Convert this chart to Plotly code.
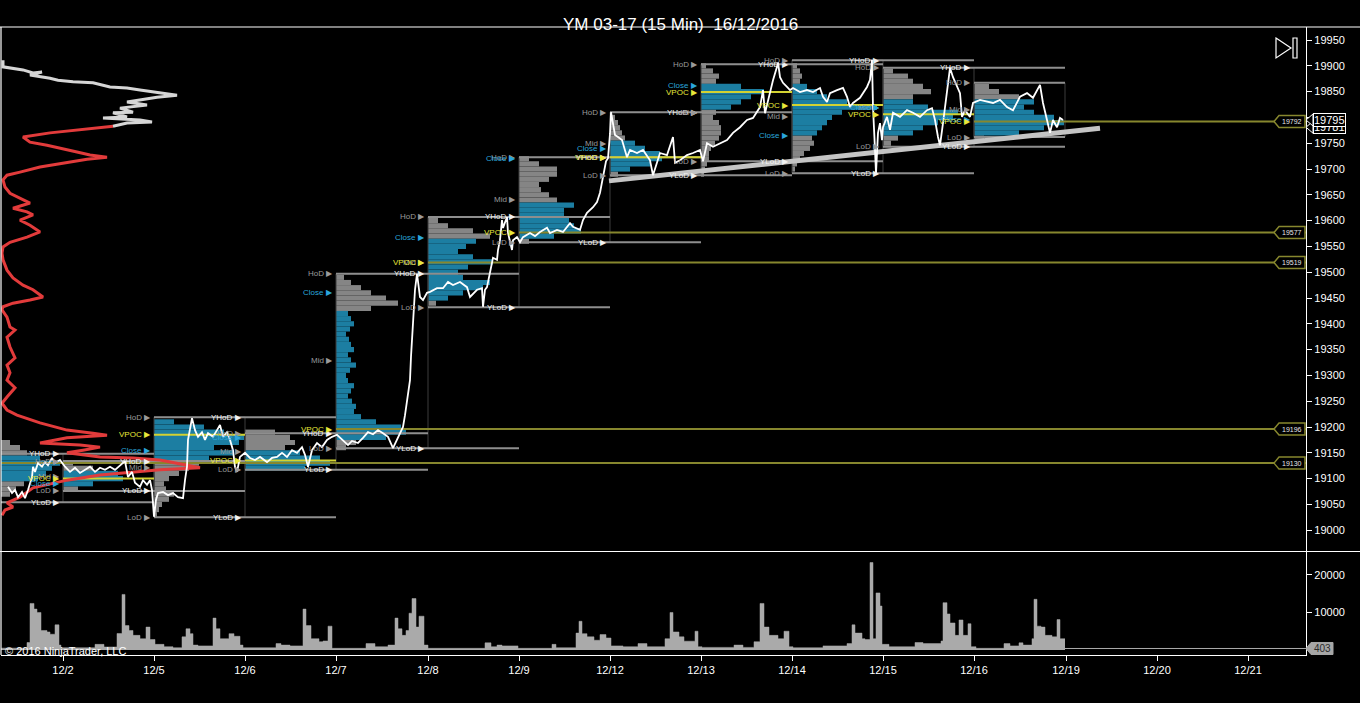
import plotly.graph_objects as go

# ---------------------------------------------------------------- data
TITLE = "YM 03-17 (15 Min)  16/12/2016"
COPYRIGHT = "© 2016 NinjaTrader, LLC"
DATE_LABELS = ["12/2", "12/5", "12/6", "12/7", "12/8", "12/9", "12/12", "12/13",
               "12/14", "12/15", "12/16", "12/19", "12/20", "12/21"]
TICK_BARS = [0, 91, 182, 273, 365, 456, 547, 638, 729, 820, 911, 1003, 1094, 1185]
SESSION_START = [-91, 0, 91, 182, 273, 365, 456, 547, 638, 729, 820, 911]
LAST_BAR = 1002
X_RANGE = [-62, 1243]
PRICE_RANGE = [18959.7, 19975.2]
VOL_RANGE = [-1330, 26100]
PRICE_TICKS = [19000, 19050, 19100, 19150, 19200, 19250, 19300, 19350, 19400, 19450,
               19500, 19550, 19600, 19650, 19700, 19750, 19800, 19850, 19900, 19950]
VOLUME_TICKS = [10000, 20000]
LAST_PRICE = 19795
SECOND_TAG = 19781
LAST_VOLUME = 403

# 15-min closes (bar index, price)
PRICE_BAR = [-55, -51, -48, -45, -41, -38, -35, -31, -30, -28, -25, -21, -18, -15, -11, -8, -3,
             2, 7, 12, 17, 22, 27, 32, 37, 42, 47, 52, 57, 62, 65, 69, 72, 77, 80, 84, 87, 89,
             91, 93, 95, 100, 105, 110, 115, 120, 122, 124, 125, 129, 132, 135, 139, 142, 145,
             150, 154, 157, 160, 164, 167, 170, 172, 174, 177, 182, 187, 192, 197, 204, 209,
             214, 219, 224, 229, 234, 239, 242, 245, 249, 254, 259, 264, 269, 274, 280, 285,
             289, 295, 300, 305, 310, 315, 320, 325, 330, 334, 337, 340, 342, 344, 347, 348,
             350, 352, 354, 357, 360, 364, 367, 374, 380, 385, 390, 397, 404, 407, 414, 419,
             420, 422, 424, 427, 430, 434, 435, 437, 439, 440, 444, 445, 449, 450, 454, 457,
             460, 467, 472, 477, 484, 487, 494, 500, 507, 510, 517, 520, 524, 530, 534, 537,
             540, 543, 545, 547, 548, 550, 552, 555, 559, 564, 567, 574, 580, 587, 590, 597,
             604, 610, 612, 617, 624, 630, 637, 640, 644, 650, 657, 664, 670, 677, 684, 690,
             697, 700, 702, 705, 710, 714, 715, 717, 720, 724, 727, 730, 737, 744, 750, 757,
             760, 764, 767, 774, 780, 784, 787, 790, 797, 804, 807, 809, 810, 812, 813, 815,
             817, 819, 820, 824, 827, 830, 837, 844, 850, 857, 864, 869, 872, 875, 877, 880,
             884, 887, 890, 894, 897, 899, 902, 907, 910, 917, 924, 930, 937, 944, 950, 957,
             964, 970, 977, 980, 984, 987, 990, 994, 997, 1000]
PRICE = [19084, 19072, 19078, 19064, 19074, 19062, 19078, 19103, 19123, 19113, 19130, 19123,
         19132, 19126, 19140, 19130, 19136,
         19123, 19113, 19121, 19111, 19117, 19123, 19113, 19121, 19117, 19123, 19117, 19126,
         19134, 19103, 19113, 19092, 19084, 19097, 19088, 19097, 19078,
         19026, 19059, 19072, 19074, 19068, 19072, 19064, 19062, 19097, 19123, 19175, 19217,
         19194, 19181, 19190, 19175, 19188,
         19181, 19194, 19204, 19181, 19190, 19175, 19155, 19123, 19113, 19142, 19150, 19140,
         19136, 19142, 19132, 19140,
         19142, 19150, 19142, 19155, 19150, 19161, 19146, 19123, 19155, 19169, 19161, 19175,
         19181, 19185, 19175, 19165,
         19173, 19169, 19179, 19190, 19186, 19194, 19188, 19181, 19159, 19175, 19185, 19200,
         19223, 19252, 19291, 19336,
         19402, 19466, 19497, 19452, 19446, 19460, 19462, 19469, 19469, 19481, 19475, 19481,
         19471, 19452, 19466, 19469,
         19433, 19466, 19471, 19498, 19528, 19524, 19543, 19562, 19601, 19586, 19607, 19576,
         19543, 19562, 19568, 19558,
         19568, 19576, 19570, 19578, 19586, 19576, 19582, 19578, 19595, 19588, 19582, 19601,
         19615, 19626, 19636, 19654,
         19688, 19715, 19721, 19768, 19810, 19789, 19766, 19762, 19756, 19723, 19737, 19731,
         19737, 19717, 19688, 19731,
         19727, 19762, 19712, 19717, 19727, 19731, 19737, 19715, 19750, 19743, 19750, 19756,
         19770, 19781, 19795, 19799,
         19820, 19853, 19808, 19834, 19872, 19898, 19907, 19878, 19867, 19859, 19853, 19857,
         19849, 19853, 19849, 19857,
         19840, 19830, 19847, 19853, 19857, 19840, 19820, 19828, 19838, 19859, 19873, 19911,
         19820, 19737, 19692, 19770,
         19789, 19756, 19781, 19801, 19776, 19809, 19801, 19814, 19809, 19801, 19814, 19818,
         19795, 19762, 19746, 19789,
         19853, 19896, 19878, 19859, 19847, 19801, 19814, 19801, 19828, 19834, 19830, 19828,
         19834, 19820, 19814, 19840,
         19847, 19838, 19863, 19828, 19795, 19770, 19795, 19781, 19799, 19795]

# volume (step start bar, contracts)
VOL_BAR = [-62, -36, -33, -29, -26, -22, -16, -13, -8, -4, -2, 32, 41, 54, 59, 62, 66, 70, 77,
           83, 87, 92, 101, 110, 119, 123, 127, 130, 135, 150, 153, 157, 166, 171, 177, 180,
           213, 218, 227, 240, 243, 248, 256, 260, 265, 269, 303, 312, 325, 332, 335, 339,
           343, 346, 349, 353, 356, 361, 365, 422, 428, 434, 439, 455, 489, 493, 513, 516,
           519, 524, 531, 537, 543, 548, 560, 575, 584, 602, 607, 610, 616, 621, 632, 635,
           639, 671, 680, 691, 697, 701, 706, 715, 721, 726, 730, 760, 784, 789, 792, 799,
           802, 807, 810, 813, 817, 819, 826, 852, 860, 878, 880, 884, 887, 892, 896, 900,
           905, 908, 913, 941, 947, 956, 960, 969, 971, 974, 978, 982, 989, 994, 997, 1002]
VOL = [500, 2000, 12400, 10900, 10000, 5200, 4800, 4200, 6700, 1300, 600, 1500, 800, 4400,
       14800, 6500, 5200, 3900, 3000, 6100, 2800, 1500, 870, 600, 3500, 5650, 4350, 1300,
       1100, 8500, 5650, 3000, 4350, 3650, 1300, 600, 1700, 1300, 1100, 10900, 6500, 3000,
       2200, 2400, 6350, 450, 1700, 870, 1300, 8500, 5650, 3900, 5200, 9800, 13700, 6100,
       9000, 1300, 450, 1900, 870, 1300, 1100, 450, 1500, 600, 4500, 7650, 4350, 3500, 2600,
       4100, 3200, 1100, 870, 1700, 870, 3000, 10000, 4800, 3500, 2350, 5000, 870, 700, 1300,
       700, 2200, 12400, 6100, 3900, 3000, 5000, 870, 600, 1100, 1700, 6700, 4500, 3000,
       2800, 23300, 3000, 15200, 11700, 1500, 870, 2000, 1700, 2400, 12600, 9600, 7200, 3900,
       8000, 3900, 7000, 870, 450, 1700, 1100, 1900, 1300, 3000, 13500, 6350, 6100, 3900,
       3500, 8100, 3000, 3000]

# daily levels: 12/1 ... 12/16
DAY_HIGH = [19148, 19134, 19219, 19188, 19497, 19607, 19723, 19810, 19903, 19911, 19896, 19867]
DAY_LOW = [19054, 19076, 19025, 19117, 19159, 19432, 19558, 19688, 19715, 19692, 19743, 19762]
DAY_CLOSE = [19100, 19091, 19155, 19180, 19461, 19568, 19721, 19740, 19862, 19765, 19820, 19795]
DAY_VPOC = [19130, 19100, 19185, 19135, 19196, 19519, 19577, 19723, 19849, 19824, 19806, 19792]
NAKED_VPOC = [True, False, False, False, True, True, True, False, False, False, False, True]
VA_LOW = [19100, 19090, 19140, 19120, 19180, 19450, 19570, 19700, 19820, 19770, 19770, 19770]
VA_HIGH = [19140, 19110, 19220, 19150, 19420, 19560, 19630, 19750, 19860, 19860, 19830, 19830]

# daily volume profiles (price level, relative volume in bars)
PROF_1201_LVL = [19170, 19160, 19150, 19140, 19130, 19120, 19110, 19100, 19090, 19080, 19070]
PROF_1201_VOL = [38, 48, 55, 68, 88, 80, 74, 66, 52, 44, 38]
PROF_1202_LVL = [19130, 19120, 19110, 19100, 19090, 19080]
PROF_1202_VOL = [10, 30, 55, 60, 30, 15]
PROF_1205_LVL = [19210, 19200, 19190, 19180, 19170, 19160, 19150, 19140, 19130, 19120,
                 19110, 19100, 19090, 19080, 19070, 19060, 19050, 19040, 19030]
PROF_1205_VOL = [20, 50, 70, 90, 85, 60, 80, 55, 45, 35, 25, 15, 10, 12, 20, 15, 8, 5, 3]
PROF_1206_LVL = [19190, 19180, 19170, 19160, 19150, 19140, 19130, 19120]
PROF_1206_VOL = [30, 45, 50, 40, 55, 75, 85, 60]
PROF_1207_LVL = [19490, 19480, 19470, 19460, 19450, 19440, 19430, 19420, 19410, 19400,
                 19390, 19380, 19370, 19360, 19350, 19340, 19330, 19320, 19310, 19300,
                 19290, 19280, 19270, 19260, 19250, 19240, 19230, 19220, 19210, 19200,
                 19190, 19180, 19170, 19160]
PROF_1207_VOL = [8, 15, 25, 35, 50, 62, 35, 12, 15, 18, 14, 10, 13, 15, 18, 12, 15, 20, 14,
                 10, 12, 18, 15, 12, 16, 20, 18, 25, 40, 65, 70, 50, 20, 10]
PROF_1208_LVL = [19600, 19590, 19580, 19570, 19560, 19550, 19540, 19530, 19520, 19510,
                 19500, 19490, 19480, 19470, 19460, 19450, 19440]
PROF_1208_VOL = [10, 20, 45, 62, 48, 38, 30, 45, 65, 40, 30, 35, 62, 55, 35, 20, 8]
PROF_1209_LVL = [19720, 19710, 19700, 19690, 19680, 19670, 19660, 19650, 19640, 19630,
                 19620, 19610, 19600, 19590, 19580, 19570, 19560]
PROF_1209_VOL = [10, 20, 38, 38, 30, 20, 22, 30, 38, 55, 45, 45, 50, 55, 62, 35, 10]
PROF_1212_LVL = [19800, 19790, 19780, 19770, 19760, 19750, 19740, 19730, 19720, 19710,
                 19700, 19690]
PROF_1212_VOL = [5, 8, 10, 12, 15, 25, 35, 50, 52, 40, 20, 8]
PROF_1213_LVL = [19900, 19890, 19880, 19870, 19860, 19850, 19840, 19830, 19820, 19810,
                 19800, 19790, 19780, 19770, 19760, 19750, 19740, 19730, 19720, 19710,
                 19700, 19690]
PROF_1213_VOL = [5, 12, 18, 15, 40, 63, 50, 40, 30, 15, 12, 18, 20, 20, 18, 14, 10, 8, 8, 6,
                 4, 3]
PROF_1214_LVL = [19900, 19890, 19880, 19870, 19860, 19850, 19840, 19830, 19820, 19810,
                 19800, 19790, 19780, 19770, 19760, 19750, 19740, 19730, 19720, 19710, 19700]
PROF_1214_VOL = [5, 8, 10, 8, 15, 25, 35, 55, 85, 50, 40, 35, 30, 25, 20, 22, 18, 12, 8, 5, 3]
PROF_1215_LVL = [19890, 19880, 19870, 19860, 19850, 19840, 19830, 19820, 19810, 19800,
                 19790, 19780, 19770, 19760, 19750]
PROF_1215_VOL = [10, 25, 30, 40, 48, 30, 30, 45, 75, 70, 55, 40, 30, 15, 8]
PROF_1216_LVL = [19860, 19850, 19840, 19830, 19820, 19810, 19800, 19790, 19780, 19770, 19760]
PROF_1216_VOL = [15, 25, 45, 60, 50, 60, 80, 90, 70, 45, 10]

# composite profile along the left edge (price, length in bars)
COMP_UPPER_PRICE = [19911, 19898, 19892, 19886, 19888, 19882, 19876, 19872, 19869, 19867,
                    19859, 19857, 19853, 19849, 19847, 19843, 19839, 19834, 19830, 19824,
                    19818, 19810, 19809, 19801, 19799, 19795, 19791, 19789, 19783]
COMP_UPPER_LEN = [2, 2, 22, 32, 41, 29, 49, 57, 72, 92, 109, 126, 139, 156, 162, 176, 156,
                  139, 126, 146, 119, 132, 112, 126, 102, 139, 151, 126, 112]
COMP_LOWER_PRICE = [19783, 19777, 19770, 19762, 19752, 19746, 19741, 19733, 19727, 19723,
                    19719, 19712, 19704, 19694, 19688, 19679, 19665, 19653, 19644, 19634,
                    19624, 19617, 19611, 19601, 19591, 19578, 19568, 19558, 19549, 19537,
                    19524, 19504, 19489, 19475, 19466, 19452, 19446, 19440, 19433, 19427,
                    19413, 19394, 19388, 19374, 19355, 19334, 19320, 19305, 19291, 19276,
                    19258, 19246, 19233, 19223, 19208, 19194, 19188, 19184, 19179, 19169,
                    19165, 19161, 19155, 19150, 19142, 19140, 19136, 19121, 19117, 19107,
                    19097, 19091, 19082, 19064, 19053, 19045, 19039, 19029]
COMP_LOWER_LEN = [112, 82, 49, 22, 29, 46, 59, 76, 89, 106, 86, 66, 39, 19, 6, 2, 4, 9, 19,
                  29, 12, 26, 32, 19, 29, 39, 26, 9, 2, 1, 2, 6, 12, 22, 32, 42, 29, 12, 2, 1,
                  6, 9, 14, 6, 9, 14, 6, 9, 6, 14, 6, 1, 6, 16, 39, 66, 92, 106, 66, 39, 79,
                  99, 82, 66, 99, 132, 159, 199, 159, 99, 66, 52, 32, 19, 6, 12, 4, 1]

TREND_BAR = [546, 1037]
TREND_PRICE = [19677, 19779]

PROFILE_LEVELS = [PROF_1201_LVL, PROF_1202_LVL, PROF_1205_LVL, PROF_1206_LVL, PROF_1207_LVL,
                  PROF_1208_LVL, PROF_1209_LVL, PROF_1212_LVL, PROF_1213_LVL, PROF_1214_LVL,
                  PROF_1215_LVL, PROF_1216_LVL]
PROFILE_VOLUMES = [PROF_1201_VOL, PROF_1202_VOL, PROF_1205_VOL, PROF_1206_VOL, PROF_1207_VOL,
                   PROF_1208_VOL, PROF_1209_VOL, PROF_1212_VOL, PROF_1213_VOL, PROF_1214_VOL,
                   PROF_1215_VOL, PROF_1216_VOL]

# ---------------------------------------------------------------- styles
W, H = 1360, 703
ML, MR, MT, MB = 1, 54, 27, 48
PW, PH = W - ML - MR, H - MT - MB
FONT = "Liberation Sans, Arial, sans-serif"
GRAY_PROF = "#858585"
BLUE_PROF = "#1c7ea2"
LEVEL_GRAY = "#8e8e8e"
VPOC_YELLOW = "#d2d232"
NAKED_OLIVE = "#87872e"
CLOSE_BLUE = "#2aa6dc"


def px(xp):
    return (xp - ML) / PW


def py(yp):
    return (H - MB - yp) / PH


PRICE_PER_PX = (PRICE_RANGE[1] - PRICE_RANGE[0]) / (py(27) - py(551)) / PH
VOL_PER_PX = (VOL_RANGE[1] - VOL_RANGE[0]) / (py(552) * PH)

fig = go.Figure()

# daily profiles
gy, gx, gb, by, bx, bb = [], [], [], [], [], []
for i, start in enumerate(SESSION_START):
    for lvl, vol in zip(PROFILE_LEVELS[i], PROFILE_VOLUMES[i]):
        if VA_LOW[i] <= lvl <= VA_HIGH[i]:
            by.append(lvl); bx.append(vol); bb.append(start)
        else:
            gy.append(lvl); gx.append(vol); gb.append(start)
fig.add_trace(go.Bar(orientation="h", y=gy, x=gx, base=gb, width=10,
                     marker=dict(color=GRAY_PROF, line=dict(width=0)), hoverinfo="skip"))
fig.add_trace(go.Bar(orientation="h", y=by, x=bx, base=bb, width=10,
                     marker=dict(color=BLUE_PROF, line=dict(width=0)), hoverinfo="skip"))

n = len(SESSION_START)


def session_end(i):
    return SESSION_START[i + 1] if i + 1 < n else LAST_BAR


# profile boxes
bxs, bys = [], []
for i, s in enumerate(SESSION_START):
    e = session_end(i)
    bxs += [s, s, e, e, s, None]
    bys += [DAY_LOW[i], DAY_HIGH[i], DAY_HIGH[i], DAY_LOW[i], DAY_LOW[i], None]
fig.add_trace(go.Scatter(x=bxs, y=bys, mode="lines", line=dict(color="#3c3c3c", width=1),
                         hoverinfo="skip"))

# high / low lines (today + next session)
lx, ly = [], []
for i, s in enumerate(SESSION_START):
    e = SESSION_START[i + 2] if i + 2 < n else LAST_BAR
    for v in (DAY_HIGH[i], DAY_LOW[i]):
        lx += [s, e, None]
        ly += [v, v, None]
fig.add_trace(go.Scatter(x=lx, y=ly, mode="lines", line=dict(color=LEVEL_GRAY, width=2),
                         hoverinfo="skip"))

# VPOC lines
vx, vy, nx, ny = [], [], [], []
for i, s in enumerate(SESSION_START):
    if NAKED_VPOC[i]:
        nx += [s, X_RANGE[1], None]
        ny += [DAY_VPOC[i], DAY_VPOC[i], None]
    else:
        vx += [s, session_end(i), None]
        vy += [DAY_VPOC[i], DAY_VPOC[i], None]
fig.add_trace(go.Scatter(x=nx, y=ny, mode="lines", line=dict(color=NAKED_OLIVE, width=2),
                         hoverinfo="skip"))
fig.add_trace(go.Scatter(x=vx, y=vy, mode="lines", line=dict(color=VPOC_YELLOW, width=2),
                         hoverinfo="skip"))

# composite profile on the left edge
fig.add_trace(go.Scatter(x=[X_RANGE[0] + v for v in COMP_LOWER_LEN], y=COMP_LOWER_PRICE,
                         mode="lines", line=dict(color="#e23b3b", width=3), hoverinfo="skip"))
fig.add_trace(go.Scatter(x=[X_RANGE[0] + v for v in COMP_UPPER_LEN], y=COMP_UPPER_PRICE,
                         mode="lines", line=dict(color="#d6d6d6", width=3), hoverinfo="skip"))

# trend line
fig.add_trace(go.Scatter(x=TREND_BAR, y=TREND_PRICE, mode="lines",
                         line=dict(color="#c4c4c4", width=5), hoverinfo="skip"))

# price
fig.add_trace(go.Scatter(x=PRICE_BAR, y=PRICE, mode="lines",
                         line=dict(color="white", width=1.8), hoverinfo="skip"))

# volume
fig.add_trace(go.Scatter(x=VOL_BAR, y=VOL, mode="lines", line=dict(color="#aaaaaa", width=0.5,
                                                                   shape="hv"),
                         fill="tozeroy", fillcolor="#aaaaaa", yaxis="y2", hoverinfo="skip"))
fig.add_trace(go.Scatter(x=[LAST_BAR, X_RANGE[1]], y=[LAST_VOLUME, LAST_VOLUME], mode="lines",
                         line=dict(color="#aaaaaa", width=1), yaxis="y2", hoverinfo="skip"))

# ---------------------------------------------------------------- annotations
ann = []


def label(x, y, text, color):
    ann.append(dict(x=x, y=y, xref="x", yref="y", text=text, showarrow=False,
                    xanchor="right", yanchor="middle", xshift=-1,
                    font=dict(family=FONT, size=8, color=color)))


for i, s in enumerate(SESSION_START):
    if s >= X_RANGE[0]:
        label(s, (DAY_HIGH[i] + DAY_LOW[i]) / 2, "Mid ▶", "#9a9a9a")
        label(s, DAY_LOW[i], "LoD ▶", "#9a9a9a")
        label(s, DAY_HIGH[i], "HoD ▶", "#9a9a9a")
        label(s, DAY_CLOSE[i], "Close ▶", CLOSE_BLUE)
        label(s, DAY_VPOC[i], "VPOC ▶", "#e8e83a")
    if i + 1 < n:
        label(SESSION_START[i + 1], DAY_HIGH[i], "YHoD ▶", "#f2f2f2")
        label(SESSION_START[i + 1], DAY_LOW[i], "YLoD ▶", "#f2f2f2")

shapes = []
# naked VPOC tags
dy = 6 * PRICE_PER_PX
for i, v in enumerate(DAY_VPOC):
    if NAKED_VPOC[i]:
        shapes.append(dict(type="path", xref="x", yref="y",
                           path=f"M 1211,{v} L 1216,{v + dy} L 1242,{v + dy} L 1242,{v - dy} "
                                f"L 1216,{v - dy} Z",
                           fillcolor="black", line=dict(color=NAKED_OLIVE, width=1.5)))
        ann.append(dict(x=1229, y=v, xref="x", yref="y", text=str(v), showarrow=False,
                        font=dict(family=FONT, size=7, color="#e6e6e6")))

# price tags on the axis
for val in (SECOND_TAG, LAST_PRICE):
    shapes.append(dict(type="path", xref="paper", yref="y",
                       path=f"M {px(1306)},{val} L {px(1313)},{val + dy} "
                            f"L {px(1313)},{val - dy} Z",
                       fillcolor="black", line=dict(color="white", width=1)))
    ann.append(dict(x=px(1313), y=val, xref="paper", yref="y", text=str(val), showarrow=False,
                    xanchor="left", yanchor="middle", bgcolor="black", bordercolor="white",
                    borderwidth=1, borderpad=0,
                    font=dict(family=FONT, size=11, color="white")))

# volume tag
vh = 6 * VOL_PER_PX
shapes.append(dict(type="path", xref="paper", yref="y2",
                   path=f"M {px(1306)},{LAST_VOLUME} L {px(1311)},{LAST_VOLUME + vh} "
                        f"L {px(1333)},{LAST_VOLUME + vh} L {px(1333)},{LAST_VOLUME - vh} "
                        f"L {px(1311)},{LAST_VOLUME - vh} Z",
                   fillcolor="#a6a6a6", line=dict(color="#a6a6a6", width=1)))
ann.append(dict(x=px(1312), y=LAST_VOLUME, xref="paper", yref="y2", text=str(LAST_VOLUME),
                showarrow=False, xanchor="left", yanchor="middle",
                font=dict(family=FONT, size=10, color="#2a2a2a")))

# frame lines
shapes += [
    dict(type="line", xref="paper", yref="paper", x0=px(0), x1=px(1360), y0=py(27), y1=py(27),
         line=dict(color="white", width=1.2)),
    dict(type="line", xref="paper", yref="paper", x0=px(0), x1=px(1360), y0=py(551.5),
         y1=py(551.5), line=dict(color="white", width=1.2)),
    dict(type="line", xref="paper", yref="paper", x0=px(1), x1=px(1), y0=py(27), y1=py(655),
         line=dict(color="white", width=1.2)),
    # play-to-end icon
    dict(type="path", xref="paper", yref="paper",
         path=f"M {px(1276)},{py(38)} L {px(1291)},{py(48)} L {px(1276)},{py(58)} Z",
         line=dict(color="white", width=1.2)),
    dict(type="rect", xref="paper", yref="paper", x0=px(1293), x1=px(1297), y0=py(38),
         y1=py(58), line=dict(color="white", width=1.2)),
]

ann.append(dict(x=px(680), y=py(13), xref="paper", yref="paper", text=TITLE, showarrow=False,
                font=dict(family=FONT, size=17, color="white")))
ann.append(dict(x=px(3), y=py(651), xref="paper", yref="paper", text=COPYRIGHT,
                showarrow=False, xanchor="left", yanchor="middle",
                font=dict(family=FONT, size=11, color="white")))

axis_font = dict(family=FONT, size=11, color="white")
fig.update_layout(
    width=W, height=H, autosize=False,
    margin=dict(l=ML, r=MR, t=MT, b=MB, pad=0),
    paper_bgcolor="black", plot_bgcolor="black",
    showlegend=False, barmode="overlay",
    annotations=ann, shapes=shapes,
    xaxis=dict(range=X_RANGE, tickvals=TICK_BARS, ticktext=DATE_LABELS, anchor="y2",
               showgrid=False, zeroline=False, ticks="outside", ticklen=5, tickcolor="white",
               showline=True, linecolor="white", linewidth=1.2, tickfont=axis_font),
    yaxis=dict(domain=[py(551), 1], range=PRICE_RANGE, side="right", anchor="x",
               tickvals=PRICE_TICKS, ticktext=[str(t) for t in PRICE_TICKS],
               showgrid=False, zeroline=False, ticks="outside",
               ticklen=5, tickcolor="white", showline=True, linecolor="white", linewidth=1.2,
               tickfont=axis_font),
    yaxis2=dict(domain=[0, py(552)], range=VOL_RANGE, side="right", anchor="x",
                tickvals=VOLUME_TICKS, ticktext=[str(t) for t in VOLUME_TICKS],
                showgrid=False, zeroline=False, ticks="outside",
                ticklen=5, tickcolor="white", showline=True, linecolor="white",
                linewidth=1.2, tickfont=axis_font),
)

fig.write_html("out.html", config={"displayModeBar": False},
               post_script="document.body.style.margin='0';"
                           "document.body.style.overflow='hidden';")
